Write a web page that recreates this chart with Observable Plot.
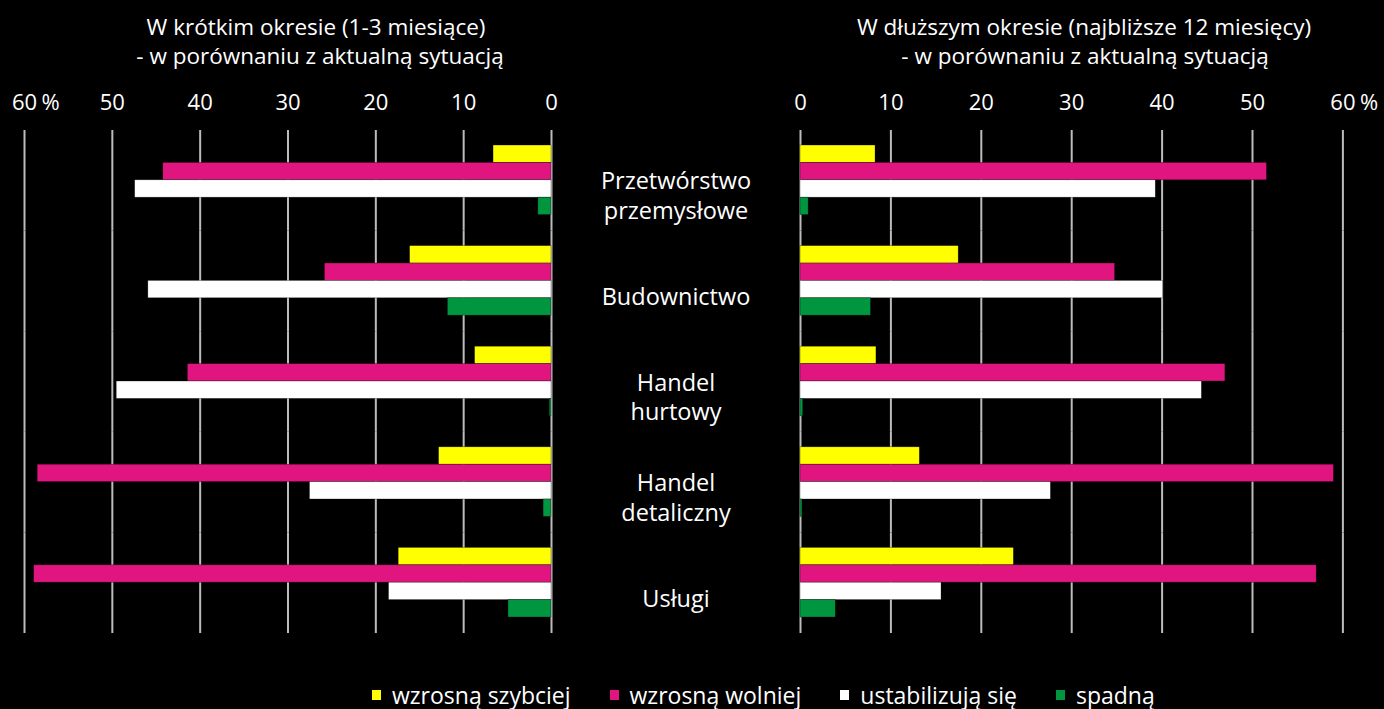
<!DOCTYPE html>
<html><head><meta charset="utf-8">
<script src="https://cdn.jsdelivr.net/npm/d3@7"></script>
<script src="https://cdn.jsdelivr.net/npm/@observablehq/plot@0.6"></script>
<style>
html,body{margin:0;padding:0;background:#000;}
body{width:1384px;height:709px;position:relative;overflow:hidden;font-family:"Open Sans",sans-serif;color:#fff;}
.title{position:absolute;font-size:22.5px;line-height:29px;text-align:center;white-space:nowrap;transform:translateX(-50%);}
.l1{top:12px;}
.l2{top:41px;}
#left{position:absolute;left:0;top:70px;}
#right{position:absolute;left:760px;top:70px;}
#legend{position:absolute;top:683px;left:372px;display:flex;font-size:23px;line-height:24px;white-space:nowrap;}
#legend .item{display:flex;align-items:center;margin-right:39px;}
#legend .sw{display:inline-block;width:9px;height:10px;margin-right:11px;}
</style>
</head><body>
<div class="title l1" style="left:316px">W krótkim okresie (1-3 miesiące)</div>
<div class="title l2" style="left:320px">- w porównaniu z aktualną sytuacją</div>
<div class="title l1" style="left:1084px">W dłuższym okresie (najbliższe 12 miesięcy)</div>
<div class="title l2" style="left:1085px">- w porównaniu z aktualną sytuacją</div>
<div id="left"></div>
<div id="right"></div>
<div id="legend"></div>
<script>
const categories = ["Przetwórstwo\nprzemysłowe", "Budownictwo", "Handel\nhurtowy", "Handel\ndetaliczny", "Usługi"];
const series = ["wzrosną szybciej", "wzrosną wolniej", "ustabilizują się", "spadną"];
const colors = ["#ffff00", "#e0157f", "#ffffff", "#00963f"];
const ticks = [0, 10, 20, 30, 40, 50, 60];

// W krótkim okresie (1-3 miesiące), % — one array per series, in category order
const shortSzybciej = [6.6, 16.1, 8.7, 12.8, 17.4];
const shortWolniej = [44.2, 25.8, 41.4, 58.5, 58.9];
const shortStabil = [47.4, 45.9, 49.5, 27.5, 18.5];
const shortSpadna = [1.5, 11.8, 0.2, 0.9, 4.9];

// W dłuższym okresie (najbliższe 12 miesięcy), %
const longSzybciej = [8.3, 17.5, 8.4, 13.2, 23.6];
const longWolniej = [51.6, 34.8, 47.0, 59.0, 57.1];
const longStabil = [39.3, 40.1, 44.4, 27.7, 15.6];
const longSpadna = [0.9, 7.8, 0.3, 0.2, 3.9];

function rows(arrs) {
  return categories.flatMap((c, i) => series.map((s, j) => ({category: c, series: s, value: arrs[j][i]})));
}

function chart(data, opts) {
  return Plot.plot({
    width: opts.width,
    height: 573,
    marginTop: 60,
    marginBottom: 10,
    marginLeft: opts.marginLeft,
    marginRight: opts.marginRight,
    style: {background: "transparent", color: "#fff", fontFamily: "Open Sans, sans-serif"},
    x: {domain: [0, 60], reverse: opts.reverse, axis: null},
    y: {domain: series, padding: 0, round: false, insetTop: 15, insetBottom: 16, axis: null},
    fy: {domain: categories, padding: 0, round: false, axis: null},
    color: {domain: series, range: colors},
    marks: [
      Plot.ruleX(ticks, {x: d => d, stroke: "#bcbcbc", strokeWidth: 2}),
      Plot.barX(data, {x: "value", y: "series", fy: "category", fill: "series", stroke: "#000", strokeWidth: 0.6, strokeOpacity: 0.5}),
      Plot.text(ticks, {x: d => d, text: d => String(d), fy: () => categories[0], frameAnchor: "top", dy: -36, fill: "#fff", fontSize: 22}),
      Plot.text(["%"], {x: () => 60, text: d => d, fy: () => categories[0], frameAnchor: "top", dy: -36, dx: 17, textAnchor: "start", fill: "#fff", fontSize: 22}),
      ...(opts.labels ? [Plot.text(categories, {fy: d => d, text: d => d, frameAnchor: "right", dx: 124.5, dy: 14, textAnchor: "middle", lineHeight: 1.27, fill: "#fff", fontSize: 23.5})] : [])
    ]
  });
}

document.getElementById("left").append(chart(rows([shortSzybciej, shortWolniej, shortStabil, shortSpadna]), {width: 760, marginLeft: 24, marginRight: 209, reverse: true, labels: true}));
document.getElementById("right").append(chart(rows([longSzybciej, longWolniej, longStabil, longSpadna]), {width: 624, marginLeft: 40, marginRight: 41.6, reverse: false, labels: false}));

const leg = document.getElementById("legend");
series.forEach((s, i) => {
  const item = document.createElement("span");
  item.className = "item";
  const sw = document.createElement("span");
  sw.className = "sw";
  sw.style.background = colors[i];
  item.append(sw, document.createTextNode(s));
  leg.append(item);
});
</script>
</body></html>
